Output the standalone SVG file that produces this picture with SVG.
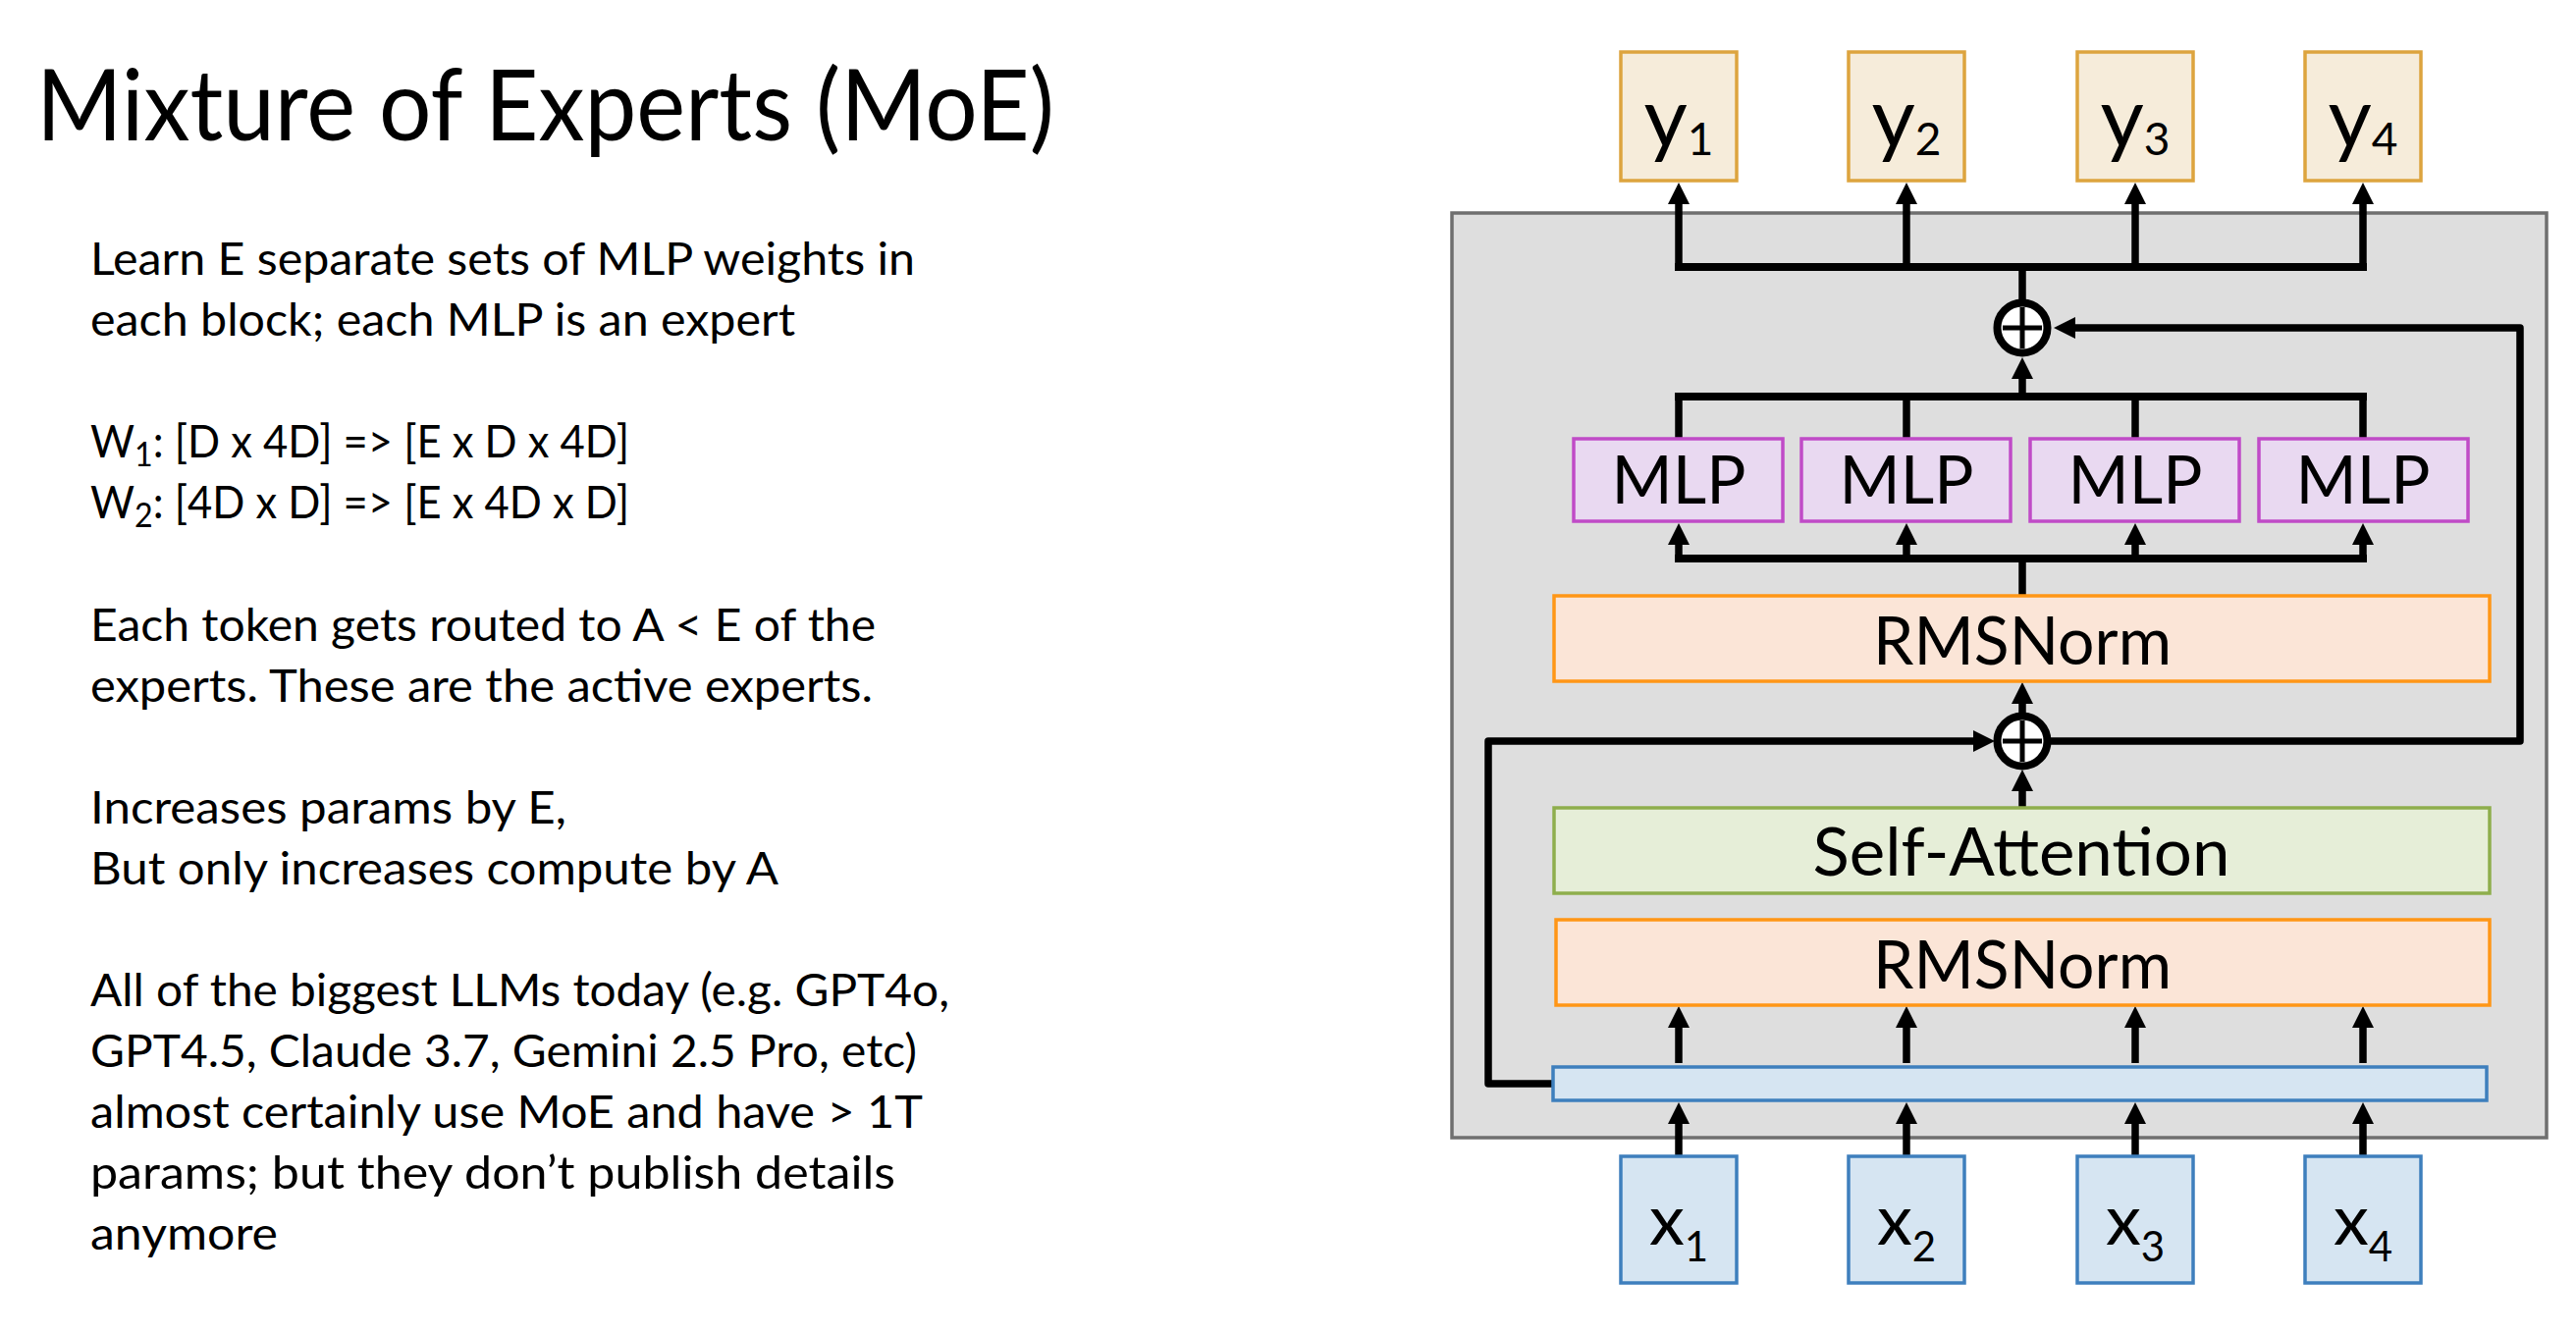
<svg xmlns="http://www.w3.org/2000/svg" width="2624" height="1358" viewBox="0 0 2624 1358">
<style>
text{font-family:Lato,"Open Sans","Liberation Sans",sans-serif;fill:#000}
.body{font-size:46px}
.lbl{font-size:67px;text-anchor:middle}
.yb{fill:#f6ecda;stroke:#dda43e;stroke-width:3.5}
.xb{fill:#d6e5f2;stroke:#3e7fbd;stroke-width:3.5}
.mlp{fill:#e9d9f1;stroke:#c04bc7;stroke-width:3.5}
.rms{fill:#fbe5d7;stroke:#ff9616;stroke-width:3.5}
.sa{fill:#e6eed8;stroke:#8eae4c;stroke-width:3.5}
.ln{stroke:#000;stroke-width:7.5;fill:none}
.bar{stroke:#000;stroke-width:8;fill:none;stroke-linecap:square}
.loop{stroke:#000;stroke-width:7.5;fill:none;stroke-linejoin:round}
.arr{marker-end:url(#ah)}
.plus{fill:#fff;stroke:#000;stroke-width:8}
.pl{stroke:#000;stroke-width:5}
</style>
<defs>
<marker id="ah" markerUnits="userSpaceOnUse" markerWidth="22" markerHeight="22" refX="6" refY="11" orient="auto" viewBox="0 0 22 22">
<path d="M0,0 L22,11 L0,22 z" fill="#000"/>
</marker>
</defs>
<rect width="2624" height="1358" fill="#fff"/>
<g id="text-panel">
<text x="37" y="143" font-size="100" textLength="1037" lengthAdjust="spacingAndGlyphs">Mixture of Experts (MoE)</text>
<text class="body" x="92" y="280" textLength="840" lengthAdjust="spacingAndGlyphs">Learn E separate sets of MLP weights in</text>
<text class="body" x="92" y="342" textLength="718" lengthAdjust="spacingAndGlyphs">each block; each MLP is an expert</text>
<text class="body" x="92" y="466" textLength="549" lengthAdjust="spacingAndGlyphs">W<tspan font-size="34" dy="9">1</tspan><tspan dy="-9">: [D x 4D] =&gt; [E x D x 4D]</tspan></text>
<text class="body" x="92" y="528" textLength="549" lengthAdjust="spacingAndGlyphs">W<tspan font-size="34" dy="9">2</tspan><tspan dy="-9">: [4D x D] =&gt; [E x 4D x D]</tspan></text>
<text class="body" x="92" y="653" textLength="800" lengthAdjust="spacingAndGlyphs">Each token gets routed to A &lt; E of the</text>
<text class="body" x="92" y="715" textLength="797" lengthAdjust="spacingAndGlyphs">experts. These are the active experts.</text>
<text class="body" x="92" y="839" textLength="485" lengthAdjust="spacingAndGlyphs">Increases params by E,</text>
<text class="body" x="92" y="901" textLength="701" lengthAdjust="spacingAndGlyphs">But only increases compute by A</text>
<text class="body" x="92" y="1025" textLength="875" lengthAdjust="spacingAndGlyphs">All of the biggest LLMs today (e.g. GPT4o,</text>
<text class="body" x="92" y="1087" textLength="842" lengthAdjust="spacingAndGlyphs">GPT4.5, Claude 3.7, Gemini 2.5 Pro, etc)</text>
<text class="body" x="92" y="1149" textLength="848" lengthAdjust="spacingAndGlyphs">almost certainly use MoE and have &gt; 1T</text>
<text class="body" x="92" y="1211" textLength="820" lengthAdjust="spacingAndGlyphs">params; but they don’t publish details</text>
<text class="body" x="92" y="1273" textLength="191" lengthAdjust="spacingAndGlyphs">anymore</text>
</g>
<g id="block">
<rect x="1479" y="217" width="1115" height="942" fill="#dedede" stroke="#6f6f6f" stroke-width="3.5"/>
</g>
<g id="connectors">
<path class="bar" d="M1710,272 H2407"/>
<path class="ln arr" d="M1710,272 V202"/>
<path class="ln arr" d="M1942,272 V202"/>
<path class="ln arr" d="M2175,272 V202"/>
<path class="ln arr" d="M2407,272 V202"/>
<path class="ln" d="M2060,306 V272"/>
<path class="bar" d="M1710,404 H2407"/>
<path class="ln" d="M1710,404 V447 M1942,404 V447 M2175,404 V447 M2407,404 V447"/>
<path class="ln arr" d="M2060,404 V380"/>
<path class="loop arr" d="M2089,755 H2567 V334 H2108"/>
<path class="bar" d="M1710,569 H2407"/>
<path class="ln arr" d="M1710,569 V549"/>
<path class="ln arr" d="M1942,569 V549"/>
<path class="ln arr" d="M2175,569 V549"/>
<path class="ln arr" d="M2407,569 V549"/>
<path class="ln" d="M2060,607 V569"/>
<path class="ln arr" d="M2060,726 V711"/>
<path class="ln arr" d="M2060,823 V800"/>
<path class="loop arr" d="M1582,1104 H1516 V755 H2016"/>
<path class="ln arr" d="M1710,1083 V1041"/>
<path class="ln arr" d="M1942,1083 V1041"/>
<path class="ln arr" d="M2175,1083 V1041"/>
<path class="ln arr" d="M2407,1083 V1041"/>
<path class="ln arr" d="M1710,1178 V1139"/>
<path class="ln arr" d="M1942,1178 V1139"/>
<path class="ln arr" d="M2175,1178 V1139"/>
<path class="ln arr" d="M2407,1178 V1139"/>
</g>
<g id="add-top">
<circle class="plus" cx="2060" cy="334" r="25.5"/>
<path class="pl" d="M2040,334 H2080 M2060,313 V355"/>
</g>
<g id="add-bottom">
<circle class="plus" cx="2060" cy="755" r="25.5"/>
<path class="pl" d="M2040,755 H2080 M2060,734 V776"/>
</g>
<g id="y1"><rect class="yb" x="1651" y="53" width="118" height="131"/><text x="1710" y="150" font-size="86" text-anchor="middle">y<tspan font-size="46" dy="8">1</tspan></text></g>
<g id="y2"><rect class="yb" x="1883" y="53" width="118" height="131"/><text x="1942" y="150" font-size="86" text-anchor="middle">y<tspan font-size="46" dy="8">2</tspan></text></g>
<g id="y3"><rect class="yb" x="2116" y="53" width="118" height="131"/><text x="2175" y="150" font-size="86" text-anchor="middle">y<tspan font-size="46" dy="8">3</tspan></text></g>
<g id="y4"><rect class="yb" x="2348" y="53" width="118" height="131"/><text x="2407" y="150" font-size="86" text-anchor="middle">y<tspan font-size="46" dy="8">4</tspan></text></g>
<g id="mlp1"><rect class="mlp" x="1603" y="447" width="213" height="84"/><text class="lbl" x="1710" y="513">MLP</text></g>
<g id="mlp2"><rect class="mlp" x="1835" y="447" width="213" height="84"/><text class="lbl" x="1942" y="513">MLP</text></g>
<g id="mlp3"><rect class="mlp" x="2068" y="447" width="213" height="84"/><text class="lbl" x="2175" y="513">MLP</text></g>
<g id="mlp4"><rect class="mlp" x="2301" y="447" width="213" height="84"/><text class="lbl" x="2407" y="513">MLP</text></g>
<g id="rmsnorm-top"><rect class="rms" x="1583" y="607" width="953" height="87"/><text class="lbl" x="2060" y="677" textLength="304" lengthAdjust="spacingAndGlyphs">RMSNorm</text></g>
<g id="self-attention"><rect class="sa" x="1583" y="823" width="953" height="87"/><text class="lbl" x="2059" y="892" textLength="425" lengthAdjust="spacingAndGlyphs">Self-Attention</text></g>
<g id="rmsnorm-bottom"><rect class="rms" x="1585" y="937" width="951" height="87"/><text class="lbl" x="2060" y="1007" textLength="304" lengthAdjust="spacingAndGlyphs">RMSNorm</text></g>
<g id="embed-bar"><rect class="xb" x="1582" y="1087" width="951" height="34"/></g>
<g id="x1"><rect class="xb" x="1651" y="1178" width="118" height="129"/><text x="1710" y="1268" font-size="72" text-anchor="middle">x<tspan font-size="42" dy="17">1</tspan></text></g>
<g id="x2"><rect class="xb" x="1883" y="1178" width="118" height="129"/><text x="1942" y="1268" font-size="72" text-anchor="middle">x<tspan font-size="42" dy="17">2</tspan></text></g>
<g id="x3"><rect class="xb" x="2116" y="1178" width="118" height="129"/><text x="2175" y="1268" font-size="72" text-anchor="middle">x<tspan font-size="42" dy="17">3</tspan></text></g>
<g id="x4"><rect class="xb" x="2348" y="1178" width="118" height="129"/><text x="2407" y="1268" font-size="72" text-anchor="middle">x<tspan font-size="42" dy="17">4</tspan></text></g>
</svg>
